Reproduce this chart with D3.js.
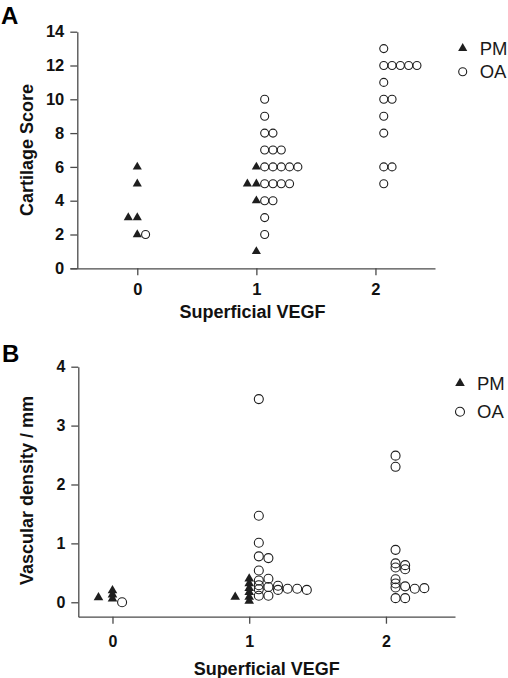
<!DOCTYPE html>
<html>
<head>
<meta charset="utf-8">
<script src="https://cdn.jsdelivr.net/npm/d3@7"></script>
<style>
  html, body { margin: 0; padding: 0; background: #fff; }
  svg { display: block; font-family: "Liberation Sans", Arial, sans-serif; }
</style>
</head>
<body>
<svg id="chart" width="508" height="678"></svg>
<script>
// ---------------- DATA ----------------
const categories = [0, 1, 2];
const xTickLabels = ["0", "1", "2"];
const scoreTicks = [0, 2, 4, 6, 8, 10, 12, 14];
const densityTicks = [0, 1, 2, 3, 4];
const seriesNames = ["PM", "OA"];

// Panel A: Cartilage Score vs Superficial VEGF
const scorePM_x = [0, 0, 0, 0, 0, 1, 1, 1, 1, 1];
const scorePM_y = [6, 5, 3, 3, 2, 6, 5, 5, 4, 1];
const scoreOA_x = [0,
  1, 1, 1, 1, 1, 1, 1, 1, 1, 1, 1, 1, 1, 1, 1, 1, 1, 1, 1, 1,
  2, 2, 2, 2, 2, 2, 2, 2, 2, 2, 2, 2, 2, 2];
const scoreOA_y = [2,
  10, 9, 8, 8, 7, 7, 7, 6, 6, 6, 6, 6, 5, 5, 5, 5, 4, 4, 3, 2,
  13, 12, 12, 12, 12, 12, 11, 10, 10, 9, 8, 6, 6, 5];

// Panel B: Vascular density / mm vs Superficial VEGF
const densityPM_x = [0, 0, 0, 0, 1, 1, 1, 1, 1, 1, 1];
const densityPM_y = [0.20, 0.13, 0.06, 0.08, 0.40, 0.32, 0.24, 0.17, 0.09, 0.02, 0.09];
const densityOA_x = [0,
  1, 1, 1, 1, 1, 1, 1, 1, 1, 1, 1, 1, 1, 1, 1, 1, 1, 1,
  2, 2, 2, 2, 2, 2, 2, 2, 2, 2, 2, 2, 2, 2, 2];
const densityOA_y = [0.00,
  3.45, 1.47, 1.01, 0.78, 0.54, 0.37, 0.29, 0.22, 0.11, 0.75, 0.40, 0.26, 0.11, 0.28, 0.21, 0.23, 0.23, 0.21,
  2.49, 2.30, 0.89, 0.66, 0.59, 0.39, 0.32, 0.25, 0.07, 0.63, 0.56, 0.27, 0.07, 0.23, 0.24];

// ---------------- HELPERS ----------------
const svg = d3.select("#chart");
const INK = "#1e1e1e";
const AXIS = "#4a4a4a";

// greedy dodge: each point goes to the first column with no point closer than minGap (data units)
function dodge(xs, ys, minGap) {
  const cols = {};
  return ys.map((v, i) => {
    const key = xs[i];
    cols[key] = cols[key] || [];
    let k = 0;
    while (true) {
      cols[key][k] = cols[key][k] || [];
      if (cols[key][k].every(u => Math.abs(u - v) >= minGap)) { cols[key][k].push(v); return k; }
      k++;
    }
  });
}

function panel(cfg) {
  const g = svg.append("g");
  const x = d3.scaleLinear().domain(cfg.xDomain).range(cfg.xRange);
  const y = d3.scaleLinear().domain(cfg.yDomain).range(cfg.yRange);

  // axes
  const xAxis = d3.axisBottom(x).tickValues(categories).tickFormat((d, i) => xTickLabels[i])
    .tickSize(7).tickSizeOuter(0).tickPadding(cfg.xPad);
  const gx = g.append("g").attr("transform", `translate(0,${cfg.xAxisY})`).call(xAxis);
  const yAxis = d3.axisLeft(y).tickValues(cfg.yTicks).tickFormat(d3.format("d"))
    .tickSize(7).tickSizeOuter(0).tickPadding(6);
  const gy = g.append("g").attr("transform", `translate(${cfg.yAxisX},0)`).call(yAxis);
  [gx, gy].forEach(a => {
    a.select(".domain").attr("stroke", AXIS).attr("stroke-width", 1.3);
    a.selectAll(".tick line").attr("stroke", AXIS).attr("stroke-width", 1.3);
    a.selectAll(".tick text").attr("fill", "#111").attr("font-weight", "bold")
      .attr("font-family", "Liberation Sans, Arial, sans-serif");
  });
  gx.selectAll(".tick text").attr("font-size", cfg.xFont);
  gy.selectAll(".tick text").attr("font-size", cfg.yFont);

  // titles
  g.append("text").attr("x", cfg.letterX).attr("y", cfg.letterY).text(cfg.letter)
    .attr("font-size", 24).attr("font-weight", "bold").attr("fill", "#000");
  g.append("text").attr("transform", `translate(${cfg.yTitleX},${cfg.yTitleY}) rotate(-90)`)
    .attr("text-anchor", "middle").attr("font-size", 18).attr("font-weight", "bold")
    .attr("fill", "#111").text(cfg.yTitle);
  g.append("text").attr("x", (cfg.xRange[0] + cfg.xRange[1]) / 2).attr("y", cfg.xTitleY)
    .attr("text-anchor", "middle").attr("font-size", 18).attr("font-weight", "bold")
    .attr("fill", "#111").text("Superficial VEGF");

  // OA circles (open)
  const oaCol = dodge(cfg.oaX, cfg.oaY, cfg.gap);
  g.append("g").selectAll("circle").data(cfg.oaY).join("circle")
    .attr("cx", (d, i) => x(cfg.oaX[i]) + (oaCol[i] + 1) * cfg.oaStep)
    .attr("cy", d => y(d))
    .attr("r", cfg.r).attr("fill", "none").attr("stroke", INK).attr("stroke-width", 1.1);

  // PM triangles (filled)
  const pmCol = dodge(cfg.pmX, cfg.pmY, cfg.gap);
  const tri = d3.symbol().type(d3.symbolTriangle).size(cfg.triSize);
  g.append("g").selectAll("path").data(cfg.pmY).join("path")
    .attr("d", tri)
    .attr("transform", (d, i) => `translate(${x(cfg.pmX[i]) - pmCol[i] * cfg.pmStep},${y(d)})`)
    .attr("fill", INK);

  // legend
  const lg = g.append("g").attr("transform", `translate(${cfg.legX},${cfg.legY})`);
  lg.append("path").attr("d", tri).attr("fill", INK);
  lg.append("circle").attr("cy", cfg.legGap).attr("r", cfg.r).attr("fill", "none")
    .attr("stroke", INK).attr("stroke-width", 1.1);
  lg.selectAll("text").data(seriesNames).join("text")
    .attr("x", 17).attr("y", (d, i) => i * cfg.legGap + 6.5)
    .attr("font-size", 18.5).attr("fill", "#1a1a1a").text(d => d);
}

panel({
  letter: "A", letterX: 1, letterY: 24,
  xDomain: [-0.565, 2.5], xRange: [70, 435],
  yDomain: [0, 14], yRange: [268.3, 31.7],
  xAxisY: 268.3, yAxisX: 77.3, yTicks: scoreTicks,
  xPad: 8, xFont: 16.5, yFont: 16.5,
  yTitle: "Cartilage Score", yTitleX: 33, yTitleY: 150, xTitleY: 318,
  pmX: scorePM_x, pmY: scorePM_y, oaX: scoreOA_x, oaY: scoreOA_y,
  gap: 0.5, oaStep: 8.3, pmStep: 9, r: 4, triSize: 36,
  legX: 462.7, legY: 48.3, legGap: 23.4
});

panel({
  letter: "B", letterX: 2, letterY: 362,
  xDomain: [-0.25, 2.505], xRange: [78.3, 455],
  yDomain: [-0.245, 4], yRange: [616.7, 366.7],
  xAxisY: 616.7, yAxisX: 78.3, yTicks: densityTicks,
  xPad: 12, xFont: 16, yFont: 16,
  yTitle: "Vascular density / mm", yTitleX: 33, yTitleY: 490.5, xTitleY: 675,
  pmX: densityPM_x, pmY: densityPM_y, oaX: densityOA_x, oaY: densityOA_y,
  gap: 0.055, oaStep: 9.6, pmStep: 14, r: 4.5, triSize: 40,
  legX: 460, legY: 383.3, legGap: 28.4
});
</script>
</body>
</html>
